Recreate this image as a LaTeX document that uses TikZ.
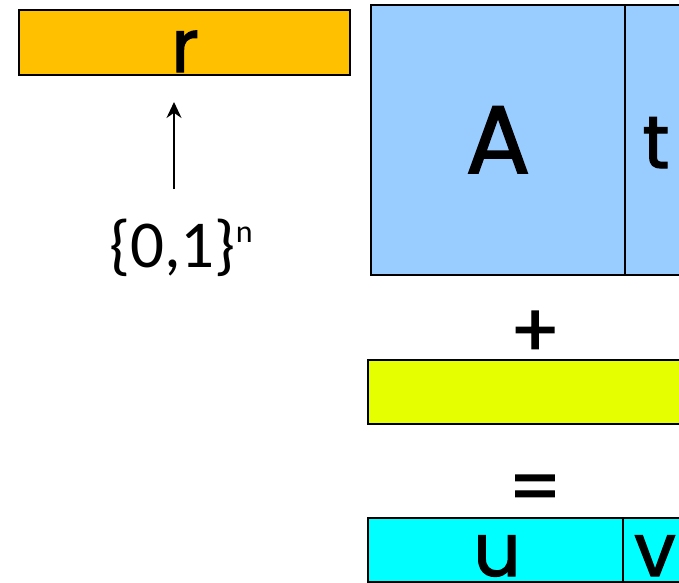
\documentclass[tikz,border=0pt]{standalone}
\usepackage{fontspec}
\setmainfont{Carlito}
\newfontfamily\comicf[FakeBold=1.6]{Poppins}
\usetikzlibrary{arrows.meta}
\definecolor{rorange}{HTML}{FFC000}
\definecolor{mblue}{HTML}{99CCFF}
\definecolor{nyellow}{HTML}{E6FF00}
\definecolor{vcyan}{HTML}{00FFFF}
\begin{document}
\begin{tikzpicture}[x=1pt,y=-1pt,
  box/.style={draw=black, line width=1.5pt, inner sep=0pt, anchor=north west},
  lbl/.style={anchor=base, inner sep=0pt, font=\comicf\fontsize{74}{74}\selectfont},
  bigl/.style={anchor=base, inner sep=0pt, font=\comicf\fontsize{96}{96}\selectfont},
  opl/.style={anchor=center, inner sep=0pt, font=\comicf\fontsize{74}{74}\selectfont}]
\useasboundingbox (0,0) rectangle (679,582);
\clip (0,0) rectangle (679,582);
% boxes
\node[box, fill=rorange, minimum width=331pt, minimum height=65pt] (rbox) at (18,9) {};
\node[box, fill=mblue, minimum width=254pt, minimum height=270pt] (Abox) at (370,4) {};
\node[box, fill=mblue, minimum width=80pt, minimum height=270pt] (tbox) at (624,4) {};
\node[box, fill=nyellow, minimum width=340pt, minimum height=64pt] (ybox) at (367,359) {};
\node[box, fill=vcyan, minimum width=255pt, minimum height=64pt] (ubox) at (367,517) {};
\node[box, fill=vcyan, minimum width=80pt, minimum height=64pt] (vbox) at (622,517) {};
% labels
\node[lbl] (rl) at (185,72) {r};
\node[bigl] (Al) at (498,173) {A};
\node[lbl] (tl) at (656,168) {t};
\node[lbl] (ul) at (497,576) {u};
\node[lbl] (vl) at (655,576) {v};
\node[opl] (plus) at (535,334) {+};
\node[opl] (eq) at (535,494) {=};
\node[anchor=base, inner sep=0pt, font=\fontsize{67}{67}\selectfont] (set) at (181,267)
  {\{0,1\}\raisebox{25pt}{\fontsize{32}{32}\selectfont n}};
% arrow
\coordinate (arrS) at (174,189);
\coordinate (arrE) at (174,102);
\draw[line width=2pt, -{Stealth[length=16pt,width=15pt]}] (arrS) -- (arrE);
\end{tikzpicture}
\end{document}
